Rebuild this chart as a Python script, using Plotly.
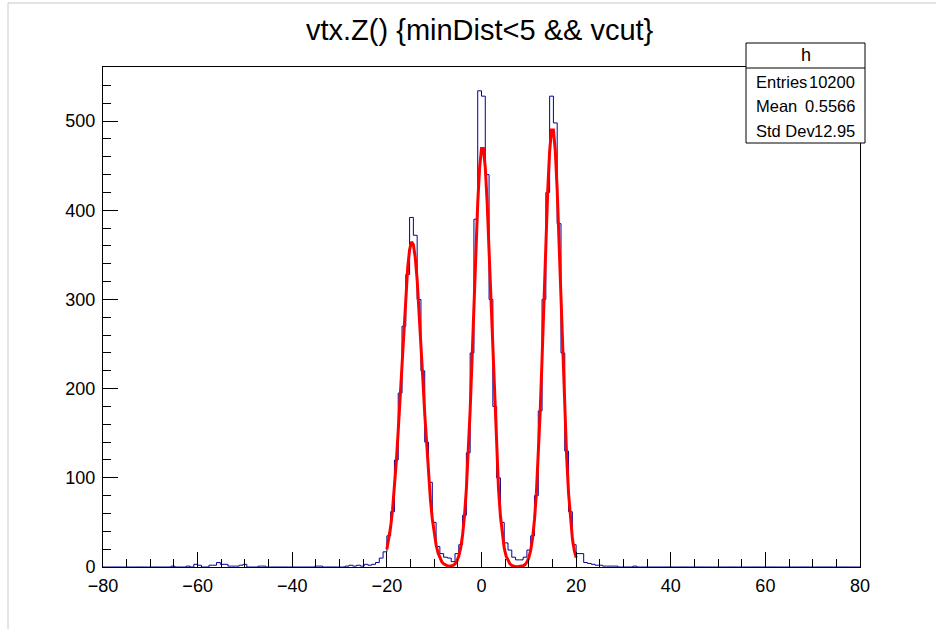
import numpy as np
import plotly.graph_objects as go

# ---------------- data ----------------
title_text = "vtx.Z() {minDist<5 && vcut}"
hist_name = "h"
stat_labels = ["Entries", "Mean", "Std Dev"]
stat_values = ["10200", "0.5566", "12.95"]

n_bins = 200
x_min, x_max = -80.0, 80.0
y_max = 560.7

# non-empty bins (bin centre, count)
bin_centers = [
    -65.2, -62.0, -60.4, -59.6, -57.2, -56.4, -55.6, -54.8, -54.0, -53.2, -52.4, -51.6,
    -50.8, -50.0, -46.8, -46.0, -34.8, -34.0,
    -28.4, -27.6, -26.8, -26.0, -25.2, -24.4, -23.6, -22.8, -22.0, -21.2, -20.4,
    -19.6, -18.8, -18.0, -17.2, -16.4, -15.6, -14.8, -14.0, -13.2, -12.4, -11.6,
    -10.8, -10.0, -9.2, -8.4, -7.6, -6.8, -6.0, -5.2, -4.4, -3.6, -2.8, -2.0, -1.2,
    -0.4, 0.4, 1.2, 2.0, 2.8, 3.6, 4.4, 5.2, 6.0, 6.8, 7.6, 8.4, 9.2, 10.0, 10.8,
    11.6, 12.4, 13.2, 14.0, 14.8, 15.6, 16.4, 17.2, 18.0, 18.8, 19.6, 20.4, 21.2,
    22.0, 22.8, 23.6, 24.4, 25.2, 26.0, 26.8, 27.6, 28.4, 32.4,
]
bin_counts = [
    1, 1, 3, 2, 2, 2, 5, 3, 3, 1, 1, 1,
    2, 3, 1, 1, 1, 1,
    1, 2, 1, 2, 1, 3, 2, 3, 5, 10, 17,
    35, 62, 120, 195, 270, 328, 392, 372, 300, 220, 140,
    95, 50, 23, 15, 11, 10, 6, 15, 25, 58, 128, 240, 390,
    534, 528, 440, 300, 180, 100, 50, 27, 19, 11, 8, 8, 11, 19, 35,
    80, 175, 300, 420, 528, 498, 385, 240, 130, 62, 25, 15, 15,
    5, 4, 3, 2, 2, 1, 1, 1, 1, 1,
]

# fitted function, sampled at x = -20 ... 20 (step 0.4)
fit_x = [round(-20 + 0.4 * i, 1) for i in range(101)]
fit_y = [
    20.0, 30.6, 45.0, 64.3, 88.7, 118.5, 153.1, 191.4, 231.4, 270.8,
    306.5, 335.7, 355.7, 364.6, 361.6, 347.0, 322.1, 289.3, 251.4, 211.3,
    171.9, 135.2, 103.0, 75.8, 54.1, 37.2, 24.9, 16.0, 10.0, 6.0,
    3.5, 2.0, 1.3, 1.0, 1.1, 1.8, 3.5, 6.7, 12.2, 21.4,
    35.9, 57.2, 87.2, 126.7, 175.8, 232.7, 294.0, 354.5, 407.9, 447.8,
    469.3, 469.3, 447.8, 407.9, 354.5, 294.0, 232.7, 175.8, 126.7, 87.2,
    57.2, 35.9, 21.4, 12.2, 6.7, 3.5, 1.7, 0.8, 0.4, 0.3,
    0.4, 0.6, 1.3, 2.7, 5.5, 10.4, 18.8, 32.4, 53.1, 82.8,
    123.0, 173.7, 233.6, 299.0, 364.3, 422.5, 466.4, 490.0, 490.0, 466.4,
    422.5, 364.3, 299.0, 233.6, 173.7, 123.0, 82.8, 53.1, 32.4, 18.8,
    10.4,
]

# ---------------- build histogram outline ----------------
width = (x_max - x_min) / n_bins
counts = np.zeros(n_bins)
for c, v in zip(bin_centers, bin_counts):
    idx = int(round((c - x_min) / width - 0.5))
    counts[idx] = v
edges = x_min + width * np.arange(n_bins + 1)
step_y = np.append(counts, counts[-1])

FONT = "Liberation Sans, Arial, Helvetica, sans-serif"

fig = go.Figure()
fig.add_trace(go.Scatter(x=edges, y=step_y, mode="lines", line_shape="hv",
                         line=dict(color="#000099", width=1), hoverinfo="skip"))
fig.add_trace(go.Scatter(x=fit_x, y=fit_y, mode="lines",
                         line=dict(color="#ff0000", width=3), hoverinfo="skip"))

# pixel helpers (plot area: x 103..860, y 67..567)
L, R, T, B = 103, 860, 67, 567
def px(xp):
    return (xp - L) / (R - L)
def py(yp):
    return (B - yp) / (B - T)

fig.update_layout(
    width=945, height=629,
    margin=dict(l=L, r=945 - R, t=T, b=629 - B, pad=0),
    paper_bgcolor="white", plot_bgcolor="white", showlegend=False,
    font=dict(family=FONT, size=18, color="black"),
    xaxis=dict(range=[x_min, x_max], tickmode="linear", tick0=-80, dtick=20,
               ticks="inside", ticklen=15, tickwidth=1, tickcolor="black",
               showline=True, linecolor="black", linewidth=1, mirror=True,
               showgrid=False, zeroline=False, ticklabelstandoff=2,
               minor=dict(tick0=-80, dtick=5, ticks="inside", ticklen=8,
                          tickcolor="black", tickwidth=1, showgrid=False),
               tickfont=dict(size=18)),
    yaxis=dict(range=[0, y_max], tickmode="linear", tick0=0, dtick=100,
               ticks="inside", ticklen=15, tickwidth=1, tickcolor="black",
               showline=True, linecolor="black", linewidth=1, mirror=True,
               showgrid=False, zeroline=False, ticklabelstandoff=3,
               minor=dict(tick0=0, dtick=20, ticks="inside", ticklen=8,
                          tickcolor="black", tickwidth=1, showgrid=False),
               tickfont=dict(size=18)),
)

shapes = [
    # canvas border lines
    dict(type="line", xref="paper", yref="paper", x0=px(8), x1=px(8), y0=py(3), y1=py(629),
         line=dict(color="#c8c8c8", width=1), layer="above"),
    dict(type="line", xref="paper", yref="paper", x0=px(8), x1=px(936), y0=py(3), y1=py(3),
         line=dict(color="#c8c8c8", width=1), layer="above"),
    # stats box
    dict(type="rect", xref="paper", yref="paper", x0=px(746), x1=px(865), y0=py(143), y1=py(43),
         fillcolor="white", line=dict(color="black", width=1), layer="above"),
    dict(type="line", xref="paper", yref="paper", x0=px(746), x1=px(865), y0=py(68), y1=py(68),
         line=dict(color="black", width=1), layer="above"),
]
fig.update_layout(shapes=shapes)

ann = [dict(text=title_text, xref="paper", yref="paper", x=px(480), y=py(30),
            xanchor="center", yanchor="middle", showarrow=False,
            font=dict(family=FONT, size=29, color="black")),
       dict(text=hist_name, xref="paper", yref="paper", x=px(805.5), y=py(55),
            xanchor="center", yanchor="middle", showarrow=False,
            font=dict(family=FONT, size=18, color="black"))]
row_y = [82, 106, 131]
for lab, val, yy in zip(stat_labels, stat_values, row_y):
    ann.append(dict(text=lab, xref="paper", yref="paper", x=px(754), y=py(yy),
                    xanchor="left", yanchor="middle", showarrow=False,
                    font=dict(family=FONT, size=16.5, color="black")))
    ann.append(dict(text=val, xref="paper", yref="paper", x=px(857), y=py(yy),
                    xanchor="right", yanchor="middle", showarrow=False,
                    font=dict(family=FONT, size=16.5, color="black")))
fig.update_layout(annotations=ann)

fig.write_html("out.html")
